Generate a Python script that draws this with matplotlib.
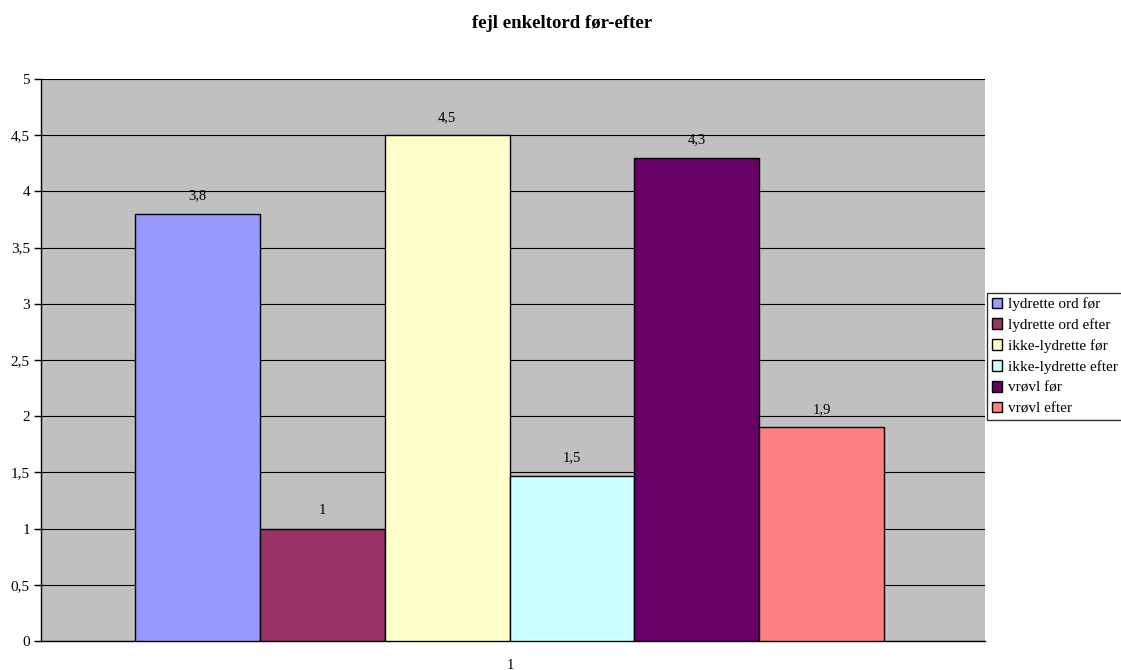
import matplotlib
matplotlib.use("Agg")
import matplotlib.pyplot as plt
import numpy as np

# data
series = ['lydrette ord før', 'lydrette ord efter', 'ikke-lydrette før',
          'ikke-lydrette efter', 'vrøvl før', 'vrøvl efter']
values = [3.8, 1.0, 4.5, 1.47, 4.3, 1.9]
labels = ['3,8', '1', '4,5', '1,5', '4,3', '1,9']
colors = ['#9999FF', '#993366', '#FFFFCC', '#CCFFFF', '#660066', '#FF8080']
yticks = [0, 0.5, 1, 1.5, 2, 2.5, 3, 3.5, 4, 4.5, 5]
category = '1'

plt.rcParams['font.family'] = ['Liberation Serif', 'DejaVu Serif']

W, H = 1121, 670
fig = plt.figure(figsize=(W / 100, H / 100), dpi=100)
ax = fig.add_axes([41 / W, 29 / H, 944 / W, 562 / H])
ax.set_facecolor('#C0C0C0')

bar_w = 749 / 944 / 6
x0 = (135 - 41) / 944
for i, (name, v, lab, c) in enumerate(zip(series, values, labels, colors)):
    xc = x0 + (i + 0.5) * bar_w
    ax.bar(xc, v, width=bar_w, color=c, edgecolor='black', linewidth=1,
           label=name, zorder=3)
    ax.text(xc, v + 0.1, lab, ha='center', va='bottom', fontsize=10.5)

ax.set_xlim(0, 1)
ax.set_ylim(0, 5)
ax.set_yticks(yticks)
ax.set_yticklabels([('%g' % t).replace('.', ',') for t in yticks], fontsize=11)
ax.yaxis.grid(True, color='black', linewidth=0.8, zorder=0)
ax.set_axisbelow(True)
ax.tick_params(axis='y', direction='out', length=5, width=1, pad=3)
ax.set_xticks([0.5 - 3 / 944])
ax.set_xticklabels([category], fontsize=10.5)
ax.tick_params(axis='x', length=0, pad=13)
for s in ['top', 'right']:
    ax.spines[s].set_visible(False)
ax.spines['left'].set_linewidth(1)
ax.spines['bottom'].set_linewidth(1)

fig.text(562 / W, 1 - 23 / H, 'fejl enkeltord før-efter', ha='center',
         va='center', fontsize=13.5, fontweight='bold')

leg = fig.legend(loc='upper left', bbox_to_anchor=(987 / W, 1 - 293 / H),
                 fontsize=11, frameon=True, fancybox=False, borderpad=0.3,
                 handlelength=0.7, handleheight=0.7, handletextpad=0.4,
                 labelspacing=0.46, borderaxespad=0)
leg.get_frame().set_edgecolor('black')
leg.get_frame().set_linewidth(1)

fig.savefig('out.png', dpi=100)
